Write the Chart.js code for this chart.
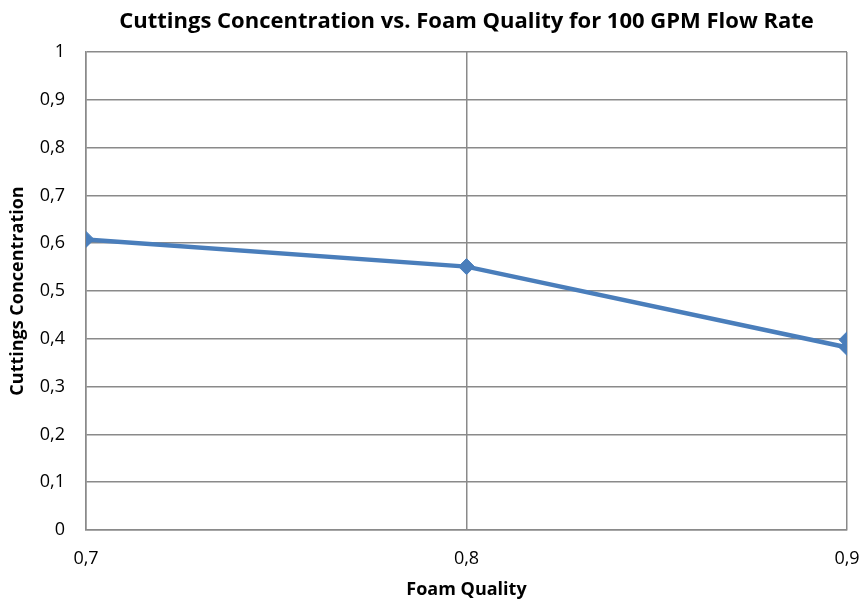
<!DOCTYPE html>
<html>
<head>
<meta charset="utf-8">
<script src="https://cdn.jsdelivr.net/npm/chart.js@4/dist/chart.umd.min.js"></script>
<style>
  html, body { margin: 0; padding: 0; background: #fff; }
  #wrap { width: 863px; height: 601px; }
</style>
</head>
<body>
<div id="wrap"><canvas id="chart" width="863" height="601"></canvas></div>
<script>
// Data
const foamQuality = [0.7, 0.8, 0.9, 0.9];
const cuttingsConc = [0.608, 0.551, 0.382, 0.398];
const xTicks = [0.7, 0.8, 0.9];
const yTicks = [0, 0.1, 0.2, 0.3, 0.4, 0.5, 0.6, 0.7, 0.8, 0.9, 1];
const chartTitle = 'Cuttings Concentration vs. Foam Quality for 100 GPM Flow Rate';

const fontFamily = "'Open Sans', Lato, sans-serif";
const gridColor = '#8a8a8a';
const lineColor = '#4a7ebb';

function fmt(v) {
    return Number(v.toFixed(1)).toString().replace('.', ',');
}

const points = foamQuality.map((x, i) => ({ x: x, y: cuttingsConc[i] }));

// Title centred over the plot area, like the original
const plotTitle = {
    id: 'plotTitle',
    afterDraw(chart) {
        const { ctx, chartArea } = chart;
        ctx.save();
        ctx.font = 'bold 22px ' + fontFamily;
        ctx.fillStyle = '#000';
        ctx.textAlign = 'center';
        ctx.textBaseline = 'middle';
        ctx.fillText(chartTitle, (chartArea.left + chartArea.right) / 2, 22);
        ctx.restore();
    }
};

new Chart(document.getElementById('chart'), {
    type: 'scatter',
    data: {
        datasets: [{
            label: 'Cuttings Concentration',
            data: points,
            showLine: true,
            borderColor: lineColor,
            backgroundColor: lineColor,
            borderWidth: 4.5,
            pointStyle: 'rectRot',
            pointRadius: 8,
            pointHoverRadius: 8,
            pointBorderWidth: 1,
            tension: 0
        }]
    },
    plugins: [plotTitle],
    options: {
        responsive: false,
        animation: false,
        layout: { padding: { left: 0, right: 16, top: 52, bottom: 0 } },
        plugins: {
            legend: { display: false },
            tooltip: { enabled: false },
            title: { display: false }
        },
        scales: {
            x: {
                type: 'linear',
                min: 0.7,
                max: 0.9,
                afterBuildTicks: s => { s.ticks = xTicks.map(v => ({ value: v })); },
                afterFit: s => { s.height = 71; s.paddingRight = 0; s.paddingLeft = 0; },
                grid: { color: gridColor, lineWidth: 1.5, drawTicks: false },
                border: { color: gridColor, width: 1.5 },
                ticks: {
                    color: '#000',
                    padding: 18,
                    font: { family: fontFamily, size: 18 },
                    callback: v => fmt(v)
                },
                title: {
                    display: true,
                    text: 'Foam Quality',
                    color: '#000',
                    font: { family: fontFamily, size: 18, weight: 'bold' },
                    padding: { top: 0, bottom: 0 }
                }
            },
            y: {
                type: 'linear',
                min: 0,
                max: 1,
                afterBuildTicks: s => { s.ticks = yTicks.map(v => ({ value: v })); },
                afterFit: s => { s.width = 86; s.paddingTop = 0; s.paddingBottom = 0; },
                grid: { color: gridColor, lineWidth: 1.5, drawTicks: false },
                border: { color: gridColor, width: 1.5 },
                ticks: {
                    color: '#000',
                    padding: 21,
                    font: { family: fontFamily, size: 18 },
                    callback: v => fmt(v)
                },
                title: {
                    display: true,
                    text: 'Cuttings Concentration',
                    color: '#000',
                    font: { family: fontFamily, size: 18, weight: 'bold' },
                    padding: { top: 7, bottom: 0 }
                }
            }
        }
    }
});
</script>
</body>
</html>
